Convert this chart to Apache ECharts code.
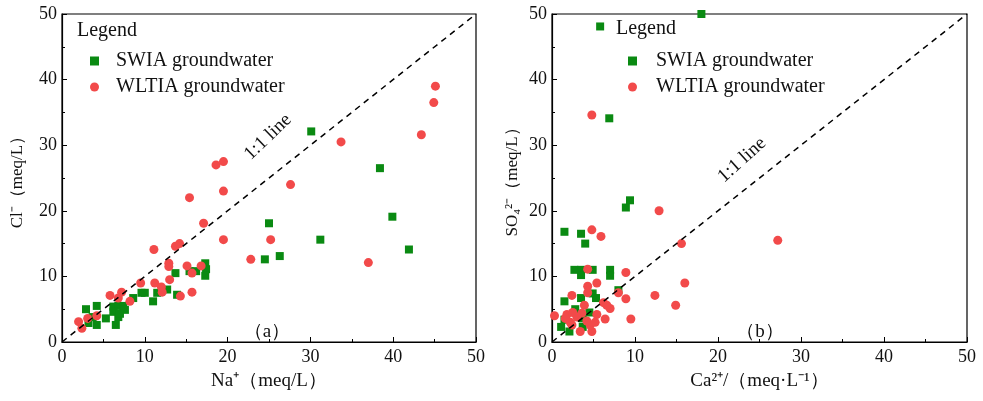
<!DOCTYPE html>
<html><head><meta charset="utf-8">
<script src="https://cdn.jsdelivr.net/npm/echarts@6/dist/echarts.min.js"></script>
<style>html,body{margin:0;padding:0;background:#fff}#c{width:983px;height:401px}</style>
</head><body><div id="c"></div>
<script>
// Axis ticks
const axisMin = 0, axisMax = 50, axisStep = 10;
// (a) Na+ vs Cl-  [Na, Cl]
const swiaNaCl = [[30.1,32.1],[38.4,26.5],[39.9,19.1],[41.9,14.1],[25.0,18.1],[31.2,15.6],[24.5,12.6],[26.3,13.1],
  [13.7,10.5],[15.4,10.8],[16.2,10.8],[17.3,12.0],[17.4,11.1],[17.3,10.1],[9.6,7.5],[10.0,7.5],[11.5,7.5],[12.7,8.0],
  [11.0,6.2],[13.9,7.2],[8.6,6.7],[6.2,5.4],[6.8,5.5],[7.4,5.5],[7.6,4.9],[6.2,4.6],[6.8,3.8],[6.5,2.6],[2.9,5.0],
  [4.2,5.5],[5.3,3.6],[3.7,3.8],[3.2,2.9],[4.2,2.6],[7.0,4.3]];
const wltiaNaCl = [[45.1,39.0],[44.9,36.5],[43.4,31.6],[33.7,30.5],[18.6,27.0],[19.5,27.5],[19.5,23.0],[27.6,24.0],
  [15.4,22.0],[17.1,18.1],[19.5,15.6],[25.2,15.6],[22.8,12.6],[37.0,12.1],[11.1,14.1],[13.7,14.6],[14.2,15.0],
  [12.9,12.0],[12.9,11.5],[15.1,11.6],[16.8,11.6],[15.7,10.5],[9.5,9.0],[11.2,9.0],[12.1,7.6],[13.0,9.5],[14.3,7.0],
  [15.7,7.6],[5.8,7.1],[7.2,7.6],[6.8,6.7],[8.2,6.2],[4.2,4.0],[3.1,3.6],[2.0,3.1],[2.4,2.1],[12.0,8.4]];
// (b) Ca2+ vs SO4 2-  [Ca, SO4]
const swiaCaSO4 = [[18.0,50.0],[5.8,48.1],[6.9,34.1],[8.9,20.5],[9.4,21.6],[1.5,16.8],[3.5,16.5],[4.0,15.0],
  [2.7,11.0],[3.5,11.0],[4.9,11.0],[3.5,10.2],[7.0,11.0],[7.0,10.1],[8.0,7.9],[1.5,6.2],[3.5,6.7],[4.9,7.4],
  [5.3,6.7],[1.5,3.4],[1.1,2.3],[2.1,1.6],[3.7,3.6],[3.7,2.3],[4.5,4.5],[2.8,5.0]];
const wltiaCaSO4 = [[4.8,34.6],[12.9,20.0],[15.6,15.0],[27.2,15.5],[4.8,17.1],[5.9,16.1],[4.3,11.1],[8.9,10.6],
  [16.0,9.0],[12.4,7.1],[14.9,5.6],[8.9,6.6],[9.5,3.5],[8.0,7.5],[5.4,9.0],[4.3,8.5],[4.3,7.5],[2.4,7.1],
  [6.2,6.0],[7.0,5.1],[6.6,5.6],[0.3,4.0],[1.8,4.2],[2.5,4.5],[3.0,3.8],[3.6,4.4],[4.2,3.2],[2.2,3.0],[3.4,1.6],
  [4.8,1.6],[5.4,4.2],[6.4,3.5],[3.9,5.6],[2.4,2.6],[4.6,2.6],[5.2,3.0],[1.6,3.6]];
const oneToOne = [[0,0],[50,50]];
const seriesNames = ['SWIA groundwater','WLTIA groundwater'];

const FONT = '"Liberation Serif","Times New Roman",serif';
const GREEN = '#0a8a12', RED = '#f24a4a';
const chart = echarts.init(document.getElementById('c'));

function xAx(gi, name){
  return {gridIndex:gi, type:'value', min:axisMin, max:axisMax, interval:axisStep,
    name:name, nameLocation:'middle', nameGap:30,
    nameTextStyle:{fontFamily:FONT, fontSize:19, color:'#111'},
    axisLine:{show:true, lineStyle:{color:'#000', width:1.2}},
    axisTick:{show:true, inside:true, length:5, lineStyle:{color:'#000'}},
    minorTick:{show:true, splitNumber:2, length:3, lineStyle:{color:'#000'}},
    axisLabel:{fontFamily:FONT, fontSize:18, color:'#111', margin:6},
    splitLine:{show:false}};
}
function yAx(gi, name, gap){
  return {gridIndex:gi, type:'value', min:axisMin, max:axisMax, interval:axisStep,
    name:name, nameLocation:'middle', nameGap:gap, nameRotate:90,
    nameTextStyle:{fontFamily:FONT, fontSize:17, color:'#111'},
    axisLine:{show:true, lineStyle:{color:'#000', width:1.2}},
    axisTick:{show:true, inside:true, length:5, lineStyle:{color:'#000'}},
    minorTick:{show:true, splitNumber:2, length:3, lineStyle:{color:'#000'}},
    axisLabel:{fontFamily:FONT, fontSize:18, color:'#111', margin:5},
    splitLine:{show:false}};
}
function sc(name, data, gi, sym, color, size){
  return {name:name, type:'scatter', xAxisIndex:gi, yAxisIndex:gi, data:data, symbol:sym,
    symbolSize:size, itemStyle:{color:color, opacity:1}, clip:false};
}
function legend(left, pad){
  return {orient:'vertical', left:left, top:46, itemGap:6, itemWidth:9, itemHeight:9,
    data:[{name:seriesNames[0], icon:'rect'},{name:seriesNames[1], icon:'circle'}],
    textStyle:{fontFamily:FONT, fontSize:20, color:'#111', padding:[0,0,0,pad]}};
}
function txt(x,y,t,size,rot){
  return {type:'text', x:x, y:y, rotation:rot||0,
    style:{text:t, font:size+'px '+FONT, fill:'#111', align:'center', verticalAlign:'middle'}};
}

chart.setOption({
  animation:false,
  grid:[
    {left:62, right:507, top:14, bottom:59, show:true, borderColor:'#000', borderWidth:1.2},
    {left:552, right:16, top:14, bottom:59, show:true, borderColor:'#000', borderWidth:1.2}
  ],
  xAxis:[xAx(0,'Na⁺（meq/L）'), xAx(1,'Ca²⁺/（meq·L⁻¹）')],
  yAxis:[yAx(0,'Cl⁻（meq/L）',36), yAx(1,'SO₄²⁻（meq/L）',31)],
  legend:[legend(85, 12), legend(623, 14)],
  series:[
    {type:'line', xAxisIndex:0, yAxisIndex:0, data:oneToOne, symbol:'none', silent:true,
      lineStyle:{color:'#000', type:[6,5], width:1.5}},
    {type:'line', xAxisIndex:1, yAxisIndex:1, data:oneToOne, symbol:'none', silent:true,
      lineStyle:{color:'#000', type:[6,5], width:1.5}},
    sc(seriesNames[0], swiaNaCl, 0, 'rect', GREEN, 8),
    sc(seriesNames[1], wltiaNaCl, 0, 'circle', RED, 9),
    sc(seriesNames[0], swiaCaSO4, 1, 'rect', GREEN, 8),
    sc(seriesNames[1], wltiaCaSO4, 1, 'circle', RED, 9)
  ],
  graphic:[
    txt(107,31,'Legend',20),
    txt(646,29,'Legend',20),
    txt(268,137,'1:1 line',19, Math.PI*44/180),
    txt(742,160,'1:1 line',19, Math.PI*42/180),
    txt(267,332,'（a）',19),
    txt(760,332,'（b）',19)
  ]
});
</script></body></html>
